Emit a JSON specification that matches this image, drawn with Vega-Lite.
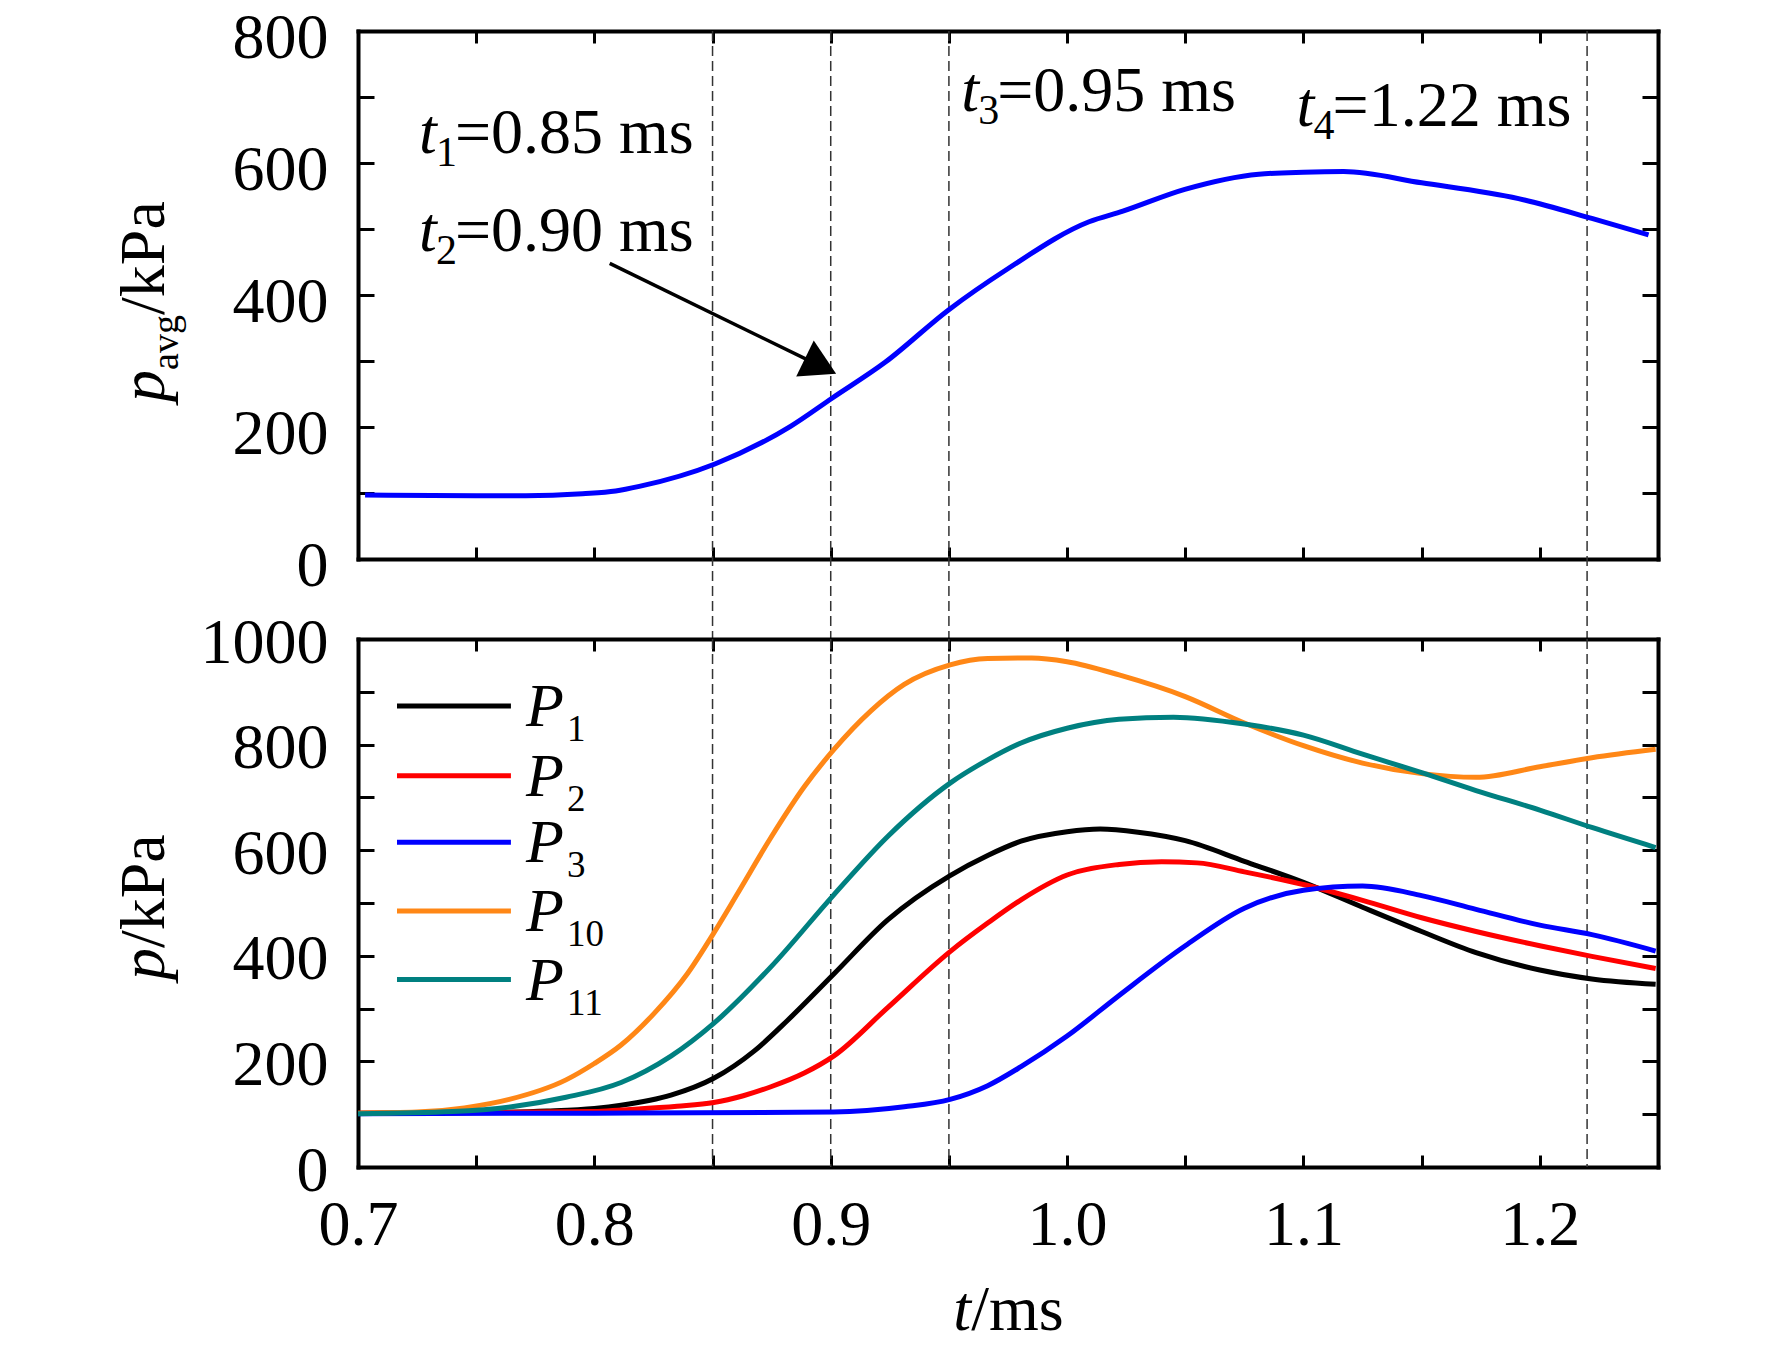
{
  "$schema": "https://vega.github.io/schema/vega-lite/v6.json",
  "background": "white",
  "padding": {"left": 112, "top": 6, "right": 5, "bottom": 5},
  "spacing": 80,
  "bounds": "flush",
  "config": {
    "font": "Liberation Serif",
    "view": {"stroke": null},
    "axis": {
      "domainColor": "black",
      "domainWidth": 4,
      "domainCap": "square",
      "tickColor": "black",
      "tickWidth": 3,
      "grid": false,
      "labelFont": "Liberation Serif",
      "labelFontSize": 64,
      "labelColor": "black",
      "labelFlush": false,
      "labelOverlap": false
    },
    "text": {"font": "Liberation Serif", "fontSize": 64, "color": "black", "align": "left", "baseline": "alphabetic"}
  },
  "datasets": {
    "avg": [
      {"t": 0.703, "p": 97}, {"t": 0.75, "p": 96}, {"t": 0.771, "p": 96}, {"t": 0.795, "p": 99},
      {"t": 0.809, "p": 103}, {"t": 0.819, "p": 110}, {"t": 0.851, "p": 144}, {"t": 0.883, "p": 201},
      {"t": 0.9007, "p": 244}, {"t": 0.923, "p": 298}, {"t": 0.9497, "p": 377}, {"t": 0.9746, "p": 439},
      {"t": 1.0093, "p": 511}, {"t": 1.0236, "p": 527}, {"t": 1.0498, "p": 560}, {"t": 1.0811, "p": 583},
      {"t": 1.1, "p": 586}, {"t": 1.117, "p": 587}, {"t": 1.15, "p": 570}, {"t": 1.191, "p": 546},
      {"t": 1.222, "p": 516}, {"t": 1.246, "p": 491}
    ],
    "probe": [
      {"s": "P₁", "t": 0.70, "p": 102}, {"s": "P₁", "t": 0.75, "p": 103}, {"s": "P₁", "t": 0.78, "p": 106},
      {"s": "P₁", "t": 0.80, "p": 111}, {"s": "P₁", "t": 0.8113, "p": 117}, {"s": "P₁", "t": 0.8324, "p": 136},
      {"s": "P₁", "t": 0.8505, "p": 168}, {"s": "P₁", "t": 0.8677, "p": 220}, {"s": "P₁", "t": 0.8818, "p": 278},
      {"s": "P₁", "t": 0.9012, "p": 365}, {"s": "P₁", "t": 0.9241, "p": 468}, {"s": "P₁", "t": 0.9505, "p": 552},
      {"s": "P₁", "t": 0.9664, "p": 590}, {"s": "P₁", "t": 0.9805, "p": 617}, {"s": "P₁", "t": 1.0, "p": 635},
      {"s": "P₁", "t": 1.014, "p": 640}, {"s": "P₁", "t": 1.03, "p": 634}, {"s": "P₁", "t": 1.05, "p": 618},
      {"s": "P₁", "t": 1.075, "p": 579}, {"s": "P₁", "t": 1.1, "p": 539}, {"s": "P₁", "t": 1.125, "p": 492},
      {"s": "P₁", "t": 1.15, "p": 446}, {"s": "P₁", "t": 1.173, "p": 406}, {"s": "P₁", "t": 1.2, "p": 373},
      {"s": "P₁", "t": 1.222, "p": 356}, {"s": "P₁", "t": 1.249, "p": 346},

      {"s": "P₂", "t": 0.70, "p": 102}, {"s": "P₂", "t": 0.80, "p": 105}, {"s": "P₂", "t": 0.8113, "p": 108},
      {"s": "P₂", "t": 0.835, "p": 115}, {"s": "P₂", "t": 0.8505, "p": 122}, {"s": "P₂", "t": 0.863, "p": 135},
      {"s": "P₂", "t": 0.8747, "p": 152}, {"s": "P₂", "t": 0.8888, "p": 178},
      {"s": "P₂", "t": 0.9012, "p": 210}, {"s": "P₂", "t": 0.9241, "p": 302},
      {"s": "P₂", "t": 0.9505, "p": 408}, {"s": "P₂", "t": 0.9664, "p": 462},
      {"s": "P₂", "t": 0.9805, "p": 506}, {"s": "P₂", "t": 1.0, "p": 553}, {"s": "P₂", "t": 1.022, "p": 573},
      {"s": "P₂", "t": 1.04, "p": 578}, {"s": "P₂", "t": 1.055, "p": 576}, {"s": "P₂", "t": 1.075, "p": 559},
      {"s": "P₂", "t": 1.1, "p": 535}, {"s": "P₂", "t": 1.125, "p": 505}, {"s": "P₂", "t": 1.15, "p": 472},
      {"s": "P₂", "t": 1.173, "p": 446}, {"s": "P₂", "t": 1.2, "p": 419}, {"s": "P₂", "t": 1.222, "p": 399},
      {"s": "P₂", "t": 1.249, "p": 376},

      {"s": "P₃", "t": 0.70, "p": 101}, {"s": "P₃", "t": 0.80, "p": 102}, {"s": "P₃", "t": 0.9012, "p": 104},
      {"s": "P₃", "t": 0.9311, "p": 114}, {"s": "P₃", "t": 0.9505, "p": 128}, {"s": "P₃", "t": 0.9664, "p": 154},
      {"s": "P₃", "t": 0.9805, "p": 190}, {"s": "P₃", "t": 1.0, "p": 248}, {"s": "P₃", "t": 1.022, "p": 325},
      {"s": "P₃", "t": 1.05, "p": 419}, {"s": "P₃", "t": 1.075, "p": 490}, {"s": "P₃", "t": 1.1, "p": 524},
      {"s": "P₃", "t": 1.125, "p": 532}, {"s": "P₃", "t": 1.15, "p": 514}, {"s": "P₃", "t": 1.173, "p": 488},
      {"s": "P₃", "t": 1.2, "p": 458}, {"s": "P₃", "t": 1.222, "p": 440}, {"s": "P₃", "t": 1.249, "p": 409},

      {"s": "P₁₀", "t": 0.70, "p": 102}, {"s": "P₁₀", "t": 0.725, "p": 104}, {"s": "P₁₀", "t": 0.745, "p": 112},
      {"s": "P₁₀", "t": 0.764, "p": 128}, {"s": "P₁₀", "t": 0.788, "p": 165}, {"s": "P₁₀", "t": 0.80, "p": 196},
      {"s": "P₁₀", "t": 0.8113, "p": 231},
      {"s": "P₁₀", "t": 0.8253, "p": 291}, {"s": "P₁₀", "t": 0.8395, "p": 367}, {"s": "P₁₀", "t": 0.8505, "p": 443},
      {"s": "P₁₀", "t": 0.8606, "p": 518}, {"s": "P₁₀", "t": 0.8747, "p": 624}, {"s": "P₁₀", "t": 0.8888, "p": 720},
      {"s": "P₁₀", "t": 0.9012, "p": 790}, {"s": "P₁₀", "t": 0.917, "p": 864}, {"s": "P₁₀", "t": 0.9311, "p": 914},
      {"s": "P₁₀", "t": 0.9505, "p": 951}, {"s": "P₁₀", "t": 0.9664, "p": 963}, {"s": "P₁₀", "t": 0.985, "p": 964},
      {"s": "P₁₀", "t": 1.0, "p": 957}, {"s": "P₁₀", "t": 1.022, "p": 932}, {"s": "P₁₀", "t": 1.05, "p": 891},
      {"s": "P₁₀", "t": 1.075, "p": 841}, {"s": "P₁₀", "t": 1.1, "p": 798}, {"s": "P₁₀", "t": 1.125, "p": 765},
      {"s": "P₁₀", "t": 1.15, "p": 745}, {"s": "P₁₀", "t": 1.173, "p": 738}, {"s": "P₁₀", "t": 1.2, "p": 758},
      {"s": "P₁₀", "t": 1.222, "p": 775}, {"s": "P₁₀", "t": 1.249, "p": 791},

      {"s": "P₁₁", "t": 0.70, "p": 101}, {"s": "P₁₁", "t": 0.74, "p": 105}, {"s": "P₁₁", "t": 0.765, "p": 114},
      {"s": "P₁₁", "t": 0.788, "p": 132}, {"s": "P₁₁", "t": 0.8113, "p": 160}, {"s": "P₁₁", "t": 0.8324, "p": 210},
      {"s": "P₁₁", "t": 0.8505, "p": 272}, {"s": "P₁₁", "t": 0.8747, "p": 379}, {"s": "P₁₁", "t": 0.9012, "p": 515},
      {"s": "P₁₁", "t": 0.9241, "p": 626}, {"s": "P₁₁", "t": 0.9505, "p": 727}, {"s": "P₁₁", "t": 0.9664, "p": 771},
      {"s": "P₁₁", "t": 0.9805, "p": 803}, {"s": "P₁₁", "t": 1.0, "p": 831}, {"s": "P₁₁", "t": 1.022, "p": 848},
      {"s": "P₁₁", "t": 1.045, "p": 852}, {"s": "P₁₁", "t": 1.075, "p": 839}, {"s": "P₁₁", "t": 1.1, "p": 818},
      {"s": "P₁₁", "t": 1.125, "p": 782}, {"s": "P₁₁", "t": 1.15, "p": 747}, {"s": "P₁₁", "t": 1.173, "p": 713},
      {"s": "P₁₁", "t": 1.2, "p": 676}, {"s": "P₁₁", "t": 1.222, "p": 643}, {"s": "P₁₁", "t": 1.249, "p": 605}
    ],
    "events": [{"t": 0.85}, {"t": 0.90}, {"t": 0.95}, {"t": 1.22}],
    "notes": [
      {"t": 0.7258, "p": 615, "sub": "1", "rest": "=0.85 ms"},
      {"t": 0.7258, "p": 467, "sub": "2", "rest": "=0.90 ms"},
      {"t": 0.9552, "p": 679, "sub": "3", "rest": "=0.95 ms"},
      {"t": 1.0971, "p": 656, "sub": "4", "rest": "=1.22 ms"}
    ],
    "arrow": [{"t": 0.8065, "p": 448, "t2": 0.8935, "p2": 296}]
  },
  "vconcat": [
    {
      "width": 1300,
      "height": 528,
      "resolve": {"axis": {"x": "independent", "y": "independent"}},
      "layer": [
        {
          "data": {"name": "events"},
          "mark": {"type": "rule", "strokeDash": [10, 5], "strokeWidth": 1.5, "color": "#333333"},
          "encoding": {
            "x": {
              "field": "t", "type": "quantitative",
              "scale": {"domain": [0.7, 1.25], "nice": false, "zero": false},
              "axis": {"orient": "bottom", "title": null, "labels": false, "tickSize": -12,
                       "values": [0.7, 0.75, 0.8, 0.85, 0.9, 0.95, 1.0, 1.05, 1.1, 1.15, 1.2]}
            },
            "y": {
              "datum": 800, "type": "quantitative",
              "scale": {"domain": [0, 800], "nice": false, "zero": false},
              "axis": {"orient": "left", "title": null, "tickSize": -16, "labelPadding": 46, "labelOffset": 7,
                       "values": [0, 100, 200, 300, 400, 500, 600, 700, 800],
                       "labelExpr": "datum.value % 200 == 0 ? format(datum.value, 'd') : ''"}
            },
            "y2": {"datum": -121}
          }
        },
        {
          "data": {"name": "avg"},
          "mark": {"type": "line", "color": "#0000ff", "strokeWidth": 5, "interpolate": "monotone"},
          "encoding": {
            "x": {
              "field": "t", "type": "quantitative",
              "axis": {"orient": "top", "title": null, "labels": false, "tickSize": -12,
                       "values": [0.7, 0.75, 0.8, 0.85, 0.9, 0.95, 1.0, 1.05, 1.1, 1.15, 1.2]}
            },
            "y": {
              "field": "p", "type": "quantitative",
              "axis": {"orient": "right", "title": null, "labels": false, "tickSize": -16,
                       "values": [0, 100, 200, 300, 400, 500, 600, 700, 800]}
            }
          }
        },
        {
          "data": {"name": "arrow"},
          "mark": {"type": "rule", "color": "black", "strokeWidth": 3.5},
          "encoding": {
            "x": {"field": "t", "type": "quantitative", "axis": null},
            "y": {"field": "p", "type": "quantitative", "axis": null},
            "x2": {"field": "t2"},
            "y2": {"field": "p2"}
          }
        },
        {
          "data": {"name": "arrow"},
          "mark": {"type": "point", "shape": "triangle", "filled": true, "color": "black", "opacity": 1, "size": 1600, "angle": 116},
          "encoding": {
            "x": {"field": "t2", "type": "quantitative", "axis": null},
            "y": {"field": "p2", "type": "quantitative", "axis": null}
          }
        },
        {
          "data": {"name": "notes"},
          "mark": {"type": "text", "text": "t", "fontStyle": "italic"},
          "encoding": {
            "x": {"field": "t", "type": "quantitative", "axis": null},
            "y": {"field": "p", "type": "quantitative", "axis": null}
          }
        },
        {
          "data": {"name": "notes"},
          "mark": {"type": "text", "fontSize": 42, "dx": 17, "dy": 13},
          "encoding": {
            "x": {"field": "t", "type": "quantitative", "axis": null},
            "y": {"field": "p", "type": "quantitative", "axis": null},
            "text": {"field": "sub"}
          }
        },
        {
          "data": {"name": "notes"},
          "mark": {"type": "text", "dx": 36},
          "encoding": {
            "x": {"field": "t", "type": "quantitative", "axis": null},
            "y": {"field": "p", "type": "quantitative", "axis": null},
            "text": {"field": "rest"}
          }
        },
        {
          "data": {"values": [{}]},
          "mark": {"type": "text", "text": "p", "fontStyle": "italic", "angle": 270, "dy": -194},
          "encoding": {
            "x": {"datum": 0.7, "type": "quantitative", "axis": null},
            "y": {"datum": 238, "type": "quantitative", "axis": null}
          }
        },
        {
          "data": {"values": [{}]},
          "mark": {"type": "text", "text": "avg", "fontSize": 38, "angle": 270, "dx": 32, "dy": -180},
          "encoding": {
            "x": {"datum": 0.7, "type": "quantitative", "axis": null},
            "y": {"datum": 238, "type": "quantitative", "axis": null}
          }
        },
        {
          "data": {"values": [{}]},
          "mark": {"type": "text", "text": "/kPa", "angle": 270, "dx": 87, "dy": -194},
          "encoding": {
            "x": {"datum": 0.7, "type": "quantitative", "axis": null},
            "y": {"datum": 238, "type": "quantitative", "axis": null}
          }
        }
      ]
    },
    {
      "width": 1300,
      "height": 528,
      "resolve": {"axis": {"x": "independent", "y": "independent"}},
      "layer": [
        {
          "data": {"name": "events"},
          "mark": {"type": "rule", "strokeDash": [10, 5], "strokeWidth": 1.5, "color": "#333333"},
          "encoding": {
            "x": {
              "field": "t", "type": "quantitative",
              "scale": {"domain": [0.7, 1.25], "nice": false, "zero": false},
              "axis": {"orient": "bottom", "title": null, "tickSize": -12, "labelPadding": 38,
                       "values": [0.7, 0.75, 0.8, 0.85, 0.9, 0.95, 1.0, 1.05, 1.1, 1.15, 1.2],
                       "labelExpr": "round(datum.value * 100) % 10 == 0 ? format(datum.value, '.1f') : ''"}
            },
            "y": {
              "datum": 1000, "type": "quantitative",
              "scale": {"domain": [0, 1000], "nice": false, "zero": false},
              "axis": {"orient": "left", "title": null, "tickSize": -16, "labelPadding": 46, "labelOffset": 4,
                       "values": [0, 100, 200, 300, 400, 500, 600, 700, 800, 900, 1000],
                       "labelExpr": "datum.value % 200 == 0 ? format(datum.value, 'd') : ''"}
            },
            "y2": {"datum": 0}
          }
        },
        {
          "data": {"name": "probe"},
          "mark": {"type": "line", "strokeWidth": 5, "interpolate": "monotone"},
          "encoding": {
            "x": {
              "field": "t", "type": "quantitative",
              "axis": {"orient": "top", "title": null, "labels": false, "tickSize": -12,
                       "values": [0.7, 0.75, 0.8, 0.85, 0.9, 0.95, 1.0, 1.05, 1.1, 1.15, 1.2]}
            },
            "y": {
              "field": "p", "type": "quantitative",
              "axis": {"orient": "right", "title": null, "labels": false, "tickSize": -16,
                       "values": [0, 100, 200, 300, 400, 500, 600, 700, 800, 900, 1000]}
            },
            "color": {
              "field": "s", "type": "nominal",
              "scale": {"domain": ["P₁", "P₂", "P₃", "P₁₀", "P₁₁"],
                        "range": ["#000000", "#ff0000", "#0000ff", "#ff8716", "#008080"]},
              "legend": null
            }
          }
        },
        {
          "data": {"values": [{}]},
          "encoding": {"y": {"datum": 873, "type": "quantitative", "axis": null}},
          "layer": [
            {"mark": {"type": "rule", "strokeWidth": 5, "color": "#000000"},
             "encoding": {"x": {"datum": 0.7165, "type": "quantitative", "axis": null}, "x2": {"datum": 0.7647}}},
            {"mark": {"type": "text", "text": "P", "fontStyle": "italic", "fontSize": 62, "dy": 20},
             "encoding": {"x": {"datum": 0.7711, "type": "quantitative", "axis": null}}},
            {"mark": {"type": "text", "text": "1", "fontSize": 37, "dx": 41, "dy": 35},
             "encoding": {"x": {"datum": 0.7711, "type": "quantitative", "axis": null}}}
          ]
        },
        {
          "data": {"values": [{}]},
          "encoding": {"y": {"datum": 741, "type": "quantitative", "axis": null}},
          "layer": [
            {"mark": {"type": "rule", "strokeWidth": 5, "color": "#ff0000"},
             "encoding": {"x": {"datum": 0.7165, "type": "quantitative", "axis": null}, "x2": {"datum": 0.7647}}},
            {"mark": {"type": "text", "text": "P", "fontStyle": "italic", "fontSize": 62, "dy": 20},
             "encoding": {"x": {"datum": 0.7711, "type": "quantitative", "axis": null}}},
            {"mark": {"type": "text", "text": "2", "fontSize": 37, "dx": 41, "dy": 35},
             "encoding": {"x": {"datum": 0.7711, "type": "quantitative", "axis": null}}}
          ]
        },
        {
          "data": {"values": [{}]},
          "encoding": {"y": {"datum": 615, "type": "quantitative", "axis": null}},
          "layer": [
            {"mark": {"type": "rule", "strokeWidth": 5, "color": "#0000ff"},
             "encoding": {"x": {"datum": 0.7165, "type": "quantitative", "axis": null}, "x2": {"datum": 0.7647}}},
            {"mark": {"type": "text", "text": "P", "fontStyle": "italic", "fontSize": 62, "dy": 20},
             "encoding": {"x": {"datum": 0.7711, "type": "quantitative", "axis": null}}},
            {"mark": {"type": "text", "text": "3", "fontSize": 37, "dx": 41, "dy": 35},
             "encoding": {"x": {"datum": 0.7711, "type": "quantitative", "axis": null}}}
          ]
        },
        {
          "data": {"values": [{}]},
          "encoding": {"y": {"datum": 485, "type": "quantitative", "axis": null}},
          "layer": [
            {"mark": {"type": "rule", "strokeWidth": 5, "color": "#ff8716"},
             "encoding": {"x": {"datum": 0.7165, "type": "quantitative", "axis": null}, "x2": {"datum": 0.7647}}},
            {"mark": {"type": "text", "text": "P", "fontStyle": "italic", "fontSize": 62, "dy": 20},
             "encoding": {"x": {"datum": 0.7711, "type": "quantitative", "axis": null}}},
            {"mark": {"type": "text", "text": "10", "fontSize": 37, "dx": 41, "dy": 35},
             "encoding": {"x": {"datum": 0.7711, "type": "quantitative", "axis": null}}}
          ]
        },
        {
          "data": {"values": [{}]},
          "encoding": {"y": {"datum": 355, "type": "quantitative", "axis": null}},
          "layer": [
            {"mark": {"type": "rule", "strokeWidth": 5, "color": "#008080"},
             "encoding": {"x": {"datum": 0.7165, "type": "quantitative", "axis": null}, "x2": {"datum": 0.7647}}},
            {"mark": {"type": "text", "text": "P", "fontStyle": "italic", "fontSize": 62, "dy": 20},
             "encoding": {"x": {"datum": 0.7711, "type": "quantitative", "axis": null}}},
            {"mark": {"type": "text", "text": "11", "fontSize": 37, "dx": 41, "dy": 35},
             "encoding": {"x": {"datum": 0.7711, "type": "quantitative", "axis": null}}}
          ]
        },
        {
          "data": {"values": [{}]},
          "mark": {"type": "text", "text": "p", "fontStyle": "italic", "angle": 270, "dy": -194},
          "encoding": {
            "x": {"datum": 0.7, "type": "quantitative", "axis": null},
            "y": {"datum": 354, "type": "quantitative", "axis": null}
          }
        },
        {
          "data": {"values": [{}]},
          "mark": {"type": "text", "text": "/kPa", "angle": 270, "dx": 32, "dy": -194},
          "encoding": {
            "x": {"datum": 0.7, "type": "quantitative", "axis": null},
            "y": {"datum": 354, "type": "quantitative", "axis": null}
          }
        },
        {
          "data": {"values": [{}]},
          "mark": {"type": "text", "text": "t", "fontStyle": "italic", "dy": 163},
          "encoding": {
            "x": {"datum": 0.9518, "type": "quantitative", "axis": null},
            "y": {"datum": 0, "type": "quantitative", "axis": null}
          }
        },
        {
          "data": {"values": [{}]},
          "mark": {"type": "text", "text": "/ms", "dx": 18, "dy": 163},
          "encoding": {
            "x": {"datum": 0.9518, "type": "quantitative", "axis": null},
            "y": {"datum": 0, "type": "quantitative", "axis": null}
          }
        }
      ]
    }
  ]
}
